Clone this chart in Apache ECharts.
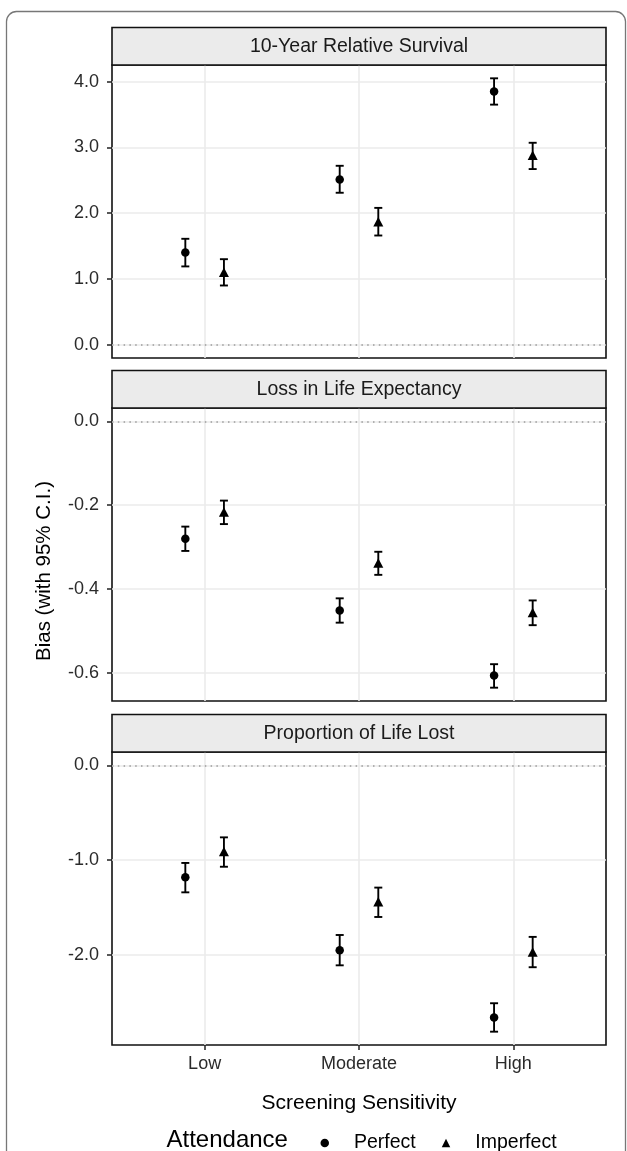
<!DOCTYPE html>
<html>
<head>
<meta charset="utf-8">
<script src="https://cdn.jsdelivr.net/npm/echarts@6/dist/echarts.min.js"></script>
<style>
  html, body { margin: 0; padding: 0; background: #fff; }
  #chart { width: 627px; height: 1151px; }
</style>
</head>
<body>
<div id="chart"></div>
<script>
// ---------------- data ----------------
const categories = ['Low', 'Moderate', 'High'];
const groups = ['Perfect', 'Imperfect'];
const panelTitles = ['10-Year Relative Survival', 'Loss in Life Expectancy', 'Proportion of Life Lost'];

// 10-Year Relative Survival
const survPerfect     = [1.40, 2.51, 3.85];
const survPerfectLo   = [1.19, 2.31, 3.65];
const survPerfectHi   = [1.61, 2.72, 4.05];
const survImperfect   = [1.10, 1.87, 2.88];
const survImperfectLo = [0.90, 1.66, 2.67];
const survImperfectHi = [1.30, 2.08, 3.07];

// Loss in Life Expectancy
const llePerfect     = [-0.280, -0.451, -0.606];
const llePerfectLo   = [-0.309, -0.480, -0.635];
const llePerfectHi   = [-0.251, -0.422, -0.579];
const lleImperfect   = [-0.216, -0.338, -0.456];
const lleImperfectLo = [-0.245, -0.366, -0.486];
const lleImperfectHi = [-0.189, -0.311, -0.427];

// Proportion of Life Lost
const pllPerfect     = [-1.18, -1.95, -2.66];
const pllPerfectLo   = [-1.34, -2.11, -2.81];
const pllPerfectHi   = [-1.03, -1.79, -2.51];
const pllImperfect   = [-0.91, -1.44, -1.97];
const pllImperfectLo = [-1.07, -1.60, -2.13];
const pllImperfectHi = [-0.76, -1.29, -1.81];

// tick values and labels
const survTicks = [0, 1, 2, 3, 4];
const survTickLabels = ['0.0', '1.0', '2.0', '3.0', '4.0'];
const lleTicks = [0, -0.2, -0.4, -0.6];
const lleTickLabels = ['0.0', '-0.2', '-0.4', '-0.6'];
const pllTicks = [0, -1, -2];
const pllTickLabels = ['0.0', '-1.0', '-2.0'];
const xTicks = [1, 2, 3];

// ---------------- layout / style ----------------
const FONT = '"Liberation Sans", Arial, Helvetica, sans-serif';
const PANEL_LEFT = 112, PANEL_WIDTH = 494, PANEL_HEIGHT = 293, STRIP_H = 37.5;
const PANEL_TOPS = [65, 408, 752];
const DODGE = 0.125;
const CAP_HALF = 4;
const SYMBOLS = ['circle', 'triangle'];

const panels = [
  { title: panelTitles[0], ticks: survTicks, labels: survTickLabels,
    p: [survPerfect, survPerfectLo, survPerfectHi], i: [survImperfect, survImperfectLo, survImperfectHi] },
  { title: panelTitles[1], ticks: lleTicks, labels: lleTickLabels,
    p: [llePerfect, llePerfectLo, llePerfectHi], i: [lleImperfect, lleImperfectLo, lleImperfectHi] },
  { title: panelTitles[2], ticks: pllTicks, labels: pllTickLabels,
    p: [pllPerfect, pllPerfectLo, pllPerfectHi], i: [pllImperfect, pllImperfectLo, pllImperfectHi] }
];

function limits(pn) {
  const vals = [0].concat(pn.p[1], pn.p[2], pn.i[1], pn.i[2]);
  const lo = Math.min.apply(null, vals), hi = Math.max.apply(null, vals);
  const pad = 0.05 * (hi - lo);
  return [lo - pad, hi + pad];
}

function errorRender(params, api) {
  const x = api.value(0), lo = api.value(1), hi = api.value(2);
  const t = api.coord([x, hi]), b = api.coord([x, lo]);
  const st = { stroke: '#000', lineWidth: 1.9, fill: null };
  return {
    type: 'group',
    children: [
      { type: 'line', shape: { x1: t[0], y1: t[1], x2: b[0], y2: b[1] }, style: st },
      { type: 'line', shape: { x1: t[0] - CAP_HALF, y1: t[1], x2: t[0] + CAP_HALF, y2: t[1] }, style: st },
      { type: 'line', shape: { x1: b[0] - CAP_HALF, y1: b[1], x2: b[0] + CAP_HALF, y2: b[1] }, style: st }
    ]
  };
}

const grids = [], xAxes = [], yAxes = [], series = [], graphics = [];

// outer frame
graphics.push({
  type: 'rect', z: 0, silent: true,
  shape: { x: 6.5, y: 11.5, width: 619, height: 1200, r: 10 },
  style: { fill: null, stroke: '#777', lineWidth: 1.3 }
});

panels.forEach((pn, k) => {
  const top = PANEL_TOPS[k];
  const lim = limits(pn);
  const isBottom = k === panels.length - 1;
  grids.push({
    left: PANEL_LEFT, top: top, width: PANEL_WIDTH, height: PANEL_HEIGHT,
    show: true, borderColor: '#111', borderWidth: 1.6, backgroundColor: '#fff'
  });
  xAxes.push({
    type: 'value', gridIndex: k, min: 0.4, max: 3.6,
    axisLine: { show: false, onZero: false },
    axisTick: { show: isBottom, customValues: xTicks, length: 5, lineStyle: { color: '#222', width: 1.5 } },
    axisLabel: {
      show: isBottom, customValues: xTicks, margin: 10,
      fontFamily: FONT, fontSize: 18, color: '#2b2b2b',
      formatter: v => categories[Math.round(v) - 1]
    },
    splitLine: { show: true, lineStyle: { color: '#ebebeb', width: 1.6 } }
  });
  yAxes.push({
    type: 'value', gridIndex: k, min: lim[0], max: lim[1],
    axisLine: { show: false, onZero: false },
    axisTick: { show: true, customValues: pn.ticks, length: 5, lineStyle: { color: '#222', width: 1.5 } },
    axisLabel: {
      customValues: pn.ticks, margin: 13,
      fontFamily: FONT, fontSize: 18, color: '#2b2b2b',
      formatter: v => {
        const idx = pn.ticks.findIndex(t => Math.abs(t - v) < 1e-9);
        return idx >= 0 ? pn.labels[idx] : '';
      }
    },
    splitLine: { show: true, lineStyle: { color: '#ebebeb', width: 1.6 } }
  });

  const sets = [
    { name: groups[0], d: pn.p, off: -DODGE, symbol: SYMBOLS[0], size: 8.5 },
    { name: groups[1], d: pn.i, off: DODGE, symbol: SYMBOLS[1], size: [10, 9.5] }
  ];
  sets.forEach((s, si) => {
    const sc = {
      type: 'scatter', name: s.name, xAxisIndex: k, yAxisIndex: k,
      symbol: s.symbol, symbolSize: s.size, z: 4, silent: true,
      itemStyle: { color: '#000', opacity: 1 },
      data: categories.map((c, j) => [j + 1 + s.off, s.d[0][j]])
    };
    if (si === 0) {
      sc.markLine = {
        silent: true, symbol: ['none', 'none'], label: { show: false }, z: 2,
        lineStyle: { type: [1.5, 4.3], color: '#9a9a9a', width: 1.5 },
        data: [{ yAxis: 0 }]
      };
    }
    series.push(sc);
    series.push({
      type: 'custom', name: s.name, xAxisIndex: k, yAxisIndex: k,
      renderItem: errorRender, silent: true, z: 3,
      encode: { x: 0, y: [1, 2] },
      data: categories.map((c, j) => [j + 1 + s.off, s.d[1][j], s.d[2][j]])
    });
  });

  // strip
  graphics.push({
    type: 'rect', z: 5, silent: true,
    shape: { x: PANEL_LEFT, y: top - STRIP_H, width: PANEL_WIDTH, height: STRIP_H },
    style: { fill: '#ebebeb', stroke: '#111', lineWidth: 1.6 }
  });
  graphics.push({
    type: 'text', z: 6, silent: true,
    x: PANEL_LEFT + PANEL_WIDTH / 2, y: top - STRIP_H / 2,
    style: { text: pn.title, font: '19.5px ' + FONT, fill: '#1a1a1a', align: 'center', verticalAlign: 'middle' }
  });
});

// axis titles
graphics.push({
  type: 'text', z: 6, silent: true,
  x: PANEL_LEFT + PANEL_WIDTH / 2, y: 1103,
  style: { text: 'Screening Sensitivity', font: '21px ' + FONT, fill: '#000', align: 'center', verticalAlign: 'middle' }
});
graphics.push({
  type: 'text', z: 6, silent: true,
  x: 44, y: 571, rotation: Math.PI / 2,
  style: { text: 'Bias (with 95% C.I.)', font: '20.5px ' + FONT, fill: '#000', align: 'center', verticalAlign: 'middle' }
});
// legend title
graphics.push({
  type: 'text', z: 6, silent: true,
  x: 166.5, y: 1140,
  style: { text: 'Attendance', font: '24px ' + FONT, fill: '#000', align: 'left', verticalAlign: 'middle' }
});

const chart = echarts.init(document.getElementById('chart'), null, { renderer: 'canvas' });
chart.setOption({
  animation: false,
  backgroundColor: '#fff',
  grid: grids,
  xAxis: xAxes,
  yAxis: yAxes,
  legend: {
    data: groups.map((g, i) => ({ name: g, icon: SYMBOLS[i], itemStyle: { color: '#000' } })),
    left: 315.5, top: 1128, orient: 'horizontal',
    itemWidth: 8.5, itemHeight: 8.5, itemGap: 26, selectedMode: false,
    textStyle: { fontFamily: FONT, fontSize: 19.5, color: '#000', padding: [0, 0, 0, 20] }
  },
  graphic: graphics,
  series: series
});
</script>
</body>
</html>
